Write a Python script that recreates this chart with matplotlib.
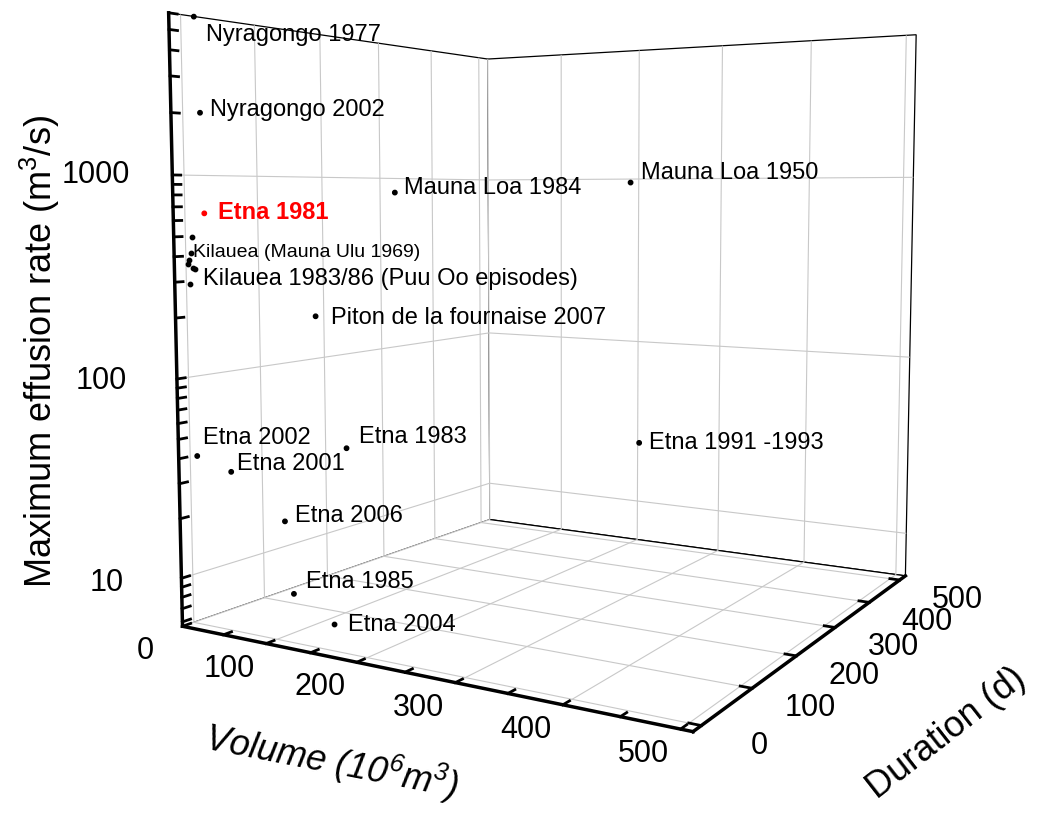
import numpy as np
import matplotlib
matplotlib.use("Agg")
import matplotlib.pyplot as plt
from mpl_toolkits.mplot3d import proj3d

plt.rcParams['font.family'] = ['Liberation Sans', 'DejaVu Sans']
plt.rcParams['mathtext.default'] = 'regular'
plt.rcParams['grid.color'] = '#c8c8c8'
plt.rcParams['grid.linewidth'] = 0.8

# labelled eruptions: volume (10^6 m3), duration (d), max effusion rate (m3/s)
names = ["Nyragongo 1977", "Nyragongo 2002", "Etna 1981", "Mauna Loa 1984",
         "Mauna Loa 1950", "Piton de la fournaise 2007", "Etna 2002", "Etna 2001",
         "Etna 1983", "Etna 2006", "Etna 1985", "Etna 2004", "Etna 1991 -1993"]
volume = [15, 20, 18, 218, 438, 125, 4, 28, 80, 36, 25, 118, 225]
duration = [1, 1, 6, 22, 23, 30, 5, 24, 131, 90, 115, 60, 473]
max_rate = [5800, 2000, 650, 820, 900, 210, 40, 33, 38, 16, 6.0, 5.8, 26]
# label offsets in pixels (right, up)
label_dx = [12, 10, 14, 9, 10, 15, 6, 6, 12, 10, 12, 13, 10]
label_dy = [-18, 3, 1, 5, 10, -2, 18, 8, 11, 5, 12, 0, 0]

# Kilauea clusters
mu_volume = [7, 5, 3, 2]
mu_duration = [1, 1, 1, 1]
mu_rate = [500, 415, 385, 365]
po_volume = [3, 8, 10]
po_duration = [1, 1, 1]
po_rate = [290, 350, 345]

vol_ticks = np.arange(0, 501, 50)
dur_ticks = np.arange(0, 501, 100)
rate_ticks = np.concatenate([np.arange(6, 10), np.arange(10, 100, 10),
                             np.arange(100, 1000, 100), np.arange(1000, 6001, 1000)])
rate_major = [10, 100, 1000]

fig = plt.figure(figsize=(10.38, 8.14), dpi=100)
ax = fig.add_axes([-0.016, 0.046, 1.1, 1.1], projection='3d')
ax.set_proj_type('persp', focal_length=0.3)
ax.view_init(elev=4.8, azim=-59.5)
ax.set_box_aspect((1.09, 1.075, 1.17), zoom=1.03)

ax.set_xlim(0, 510)
ax.set_ylim(-15, 520)
ax.set_zlim(np.log10(5.7), np.log10(6000))

for axis in (ax.xaxis, ax.yaxis, ax.zaxis):
    axis.set_pane_color((1, 1, 1, 1))
    axis.pane.set_edgecolor('black')
    axis.pane.set_linewidth(0.9)
    axis.line.set_linewidth(2.5)
    axis.line.set_color('black')
    axis._axinfo['tick']['linewidth'] = {True: 2.0, False: 1.0}
    axis._axinfo['tick']['inward_factor'] = 0.0
    axis._axinfo['tick']['outward_factor'] = 0.25
ax.zaxis.set_ticks_position('lower')

ax.set_xticks(vol_ticks)
ax.set_xticklabels([''] * len(vol_ticks))
ax.xaxis._axinfo['grid']['color'] = ['#c8c8c8' if v % 100 == 0 else 'none' for v in vol_ticks]
ax.set_yticks(dur_ticks)
ax.set_yticklabels([''] * len(dur_ticks))
ax.set_zticks(np.log10(rate_ticks))
ax.set_zticklabels([str(r) if r in rate_major else '' for r in rate_ticks], va='center')
ax.zaxis._axinfo['grid']['color'] = ['#c8c8c8' if r in rate_major else 'none' for r in rate_ticks]
ax.tick_params(labelsize=22)
ax.zaxis.set_tick_params(pad=22)

# axis titles placed in figure pixels
fig.text(40 / 1038, 1 - 352 / 814, 'Maximum effusion rate (m$^3$/s)', fontsize=26,
         rotation=90, ha='center', va='center')
fig.text(332 / 1038, 1 - 762 / 814, 'Volume (10$^6$m$^3$)', fontsize=26, style='italic',
         rotation=-11, ha='center', va='center', rotation_mode='anchor')
fig.text(946 / 1038, 1 - 733 / 814, 'Duration (d)', fontsize=26,
         rotation=38, ha='center', va='center', rotation_mode='anchor')

colors = ['red' if n == "Etna 1981" else 'black' for n in names]
ax.scatter(volume, duration, np.log10(max_rate), c=colors, s=10, depthshade=False)
ax.scatter(mu_volume, mu_duration, np.log10(mu_rate), c='black', s=10, depthshade=False)
ax.scatter(po_volume, po_duration, np.log10(po_rate), c='black', s=10, depthshade=False)

fig.canvas.draw()
M = ax.get_proj()


def label(x, y, z, text, dx, dy, ha='left', **kw):
    px, py, _ = proj3d.proj_transform(x, y, z, M)
    ax.annotate(text, xy=(px, py), xytext=(dx, dy), textcoords='offset pixels',
                ha=ha, va='center', annotation_clip=False, **kw)


for i, n in enumerate(names):
    if n == "Etna 1981":
        label(volume[i], duration[i], np.log10(max_rate[i]), n, label_dx[i], label_dy[i],
              fontsize=17, color='red', fontweight='bold')
    else:
        label(volume[i], duration[i], np.log10(max_rate[i]), n, label_dx[i], label_dy[i],
              fontsize=17)

label(mu_volume[0], mu_duration[0], np.log10(mu_rate[0]), "Kilauea (Mauna Ulu 1969)",
      1, -16, fontsize=14)
label(po_volume[0], po_duration[0], np.log10(po_rate[0]), "Kilauea 1983/86 (Puu Oo episodes)",
      13, 5, fontsize=17)

# tick labels of the two floor axes, set beside their axis lines
zmin = ax.get_zlim()[0]
xmax = ax.get_xlim()[1]
ymin = ax.get_ylim()[0]
for v in vol_ticks[::2]:
    label(v, ymin, zmin, str(v), -37, -25, ha='center', fontsize=22)
for d in dur_ticks:
    label(xmax, d, zmin, str(d), 58, -20, ha='center', fontsize=22)

fig.savefig("out.png", dpi=100)
